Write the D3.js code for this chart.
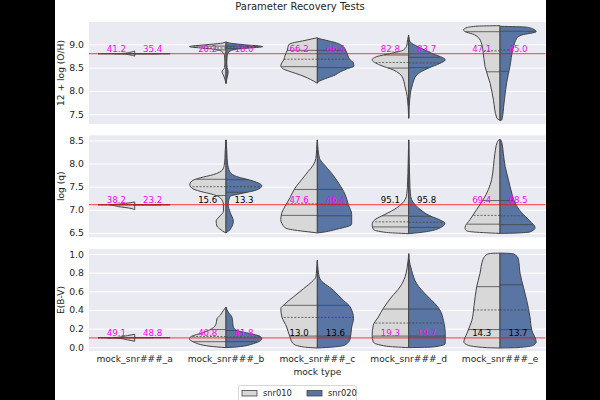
<!DOCTYPE html>
<html lang="en">
<head>
<meta charset="UTF-8">
<title>Parameter Recovery Tests</title>
<script src="https://cdn.jsdelivr.net/npm/d3@7"></script>
<style>
  body { margin: 0; background: #000; }
  svg { display: block; font-family: "DejaVu Sans", sans-serif; }
</style>
</head>
<body>
<div id="chart"></div>
<script>
// categories and groups
const categories = ["mock_snr###_a", "mock_snr###_b", "mock_snr###_c", "mock_snr###_d", "mock_snr###_e"];
const groups = ["snr010", "snr020"];
const yLabels = ["12 + log (O/H)", "log (q)", "E(B-V)"];
const truth = [8.80, 7.11, 0.10];

const ohTicks = [7.5, 8.0, 8.5, 9.0];
const qTicks = [6.5, 7.0, 7.5, 8.0, 8.5];
const ebvTicks = [0.0, 0.2, 0.4, 0.6, 0.8, 1.0];

// violin profiles: [value, relative density]
const ohLeft = [
  [[8.745,0],[8.775,0.15],[8.795,0.36],[8.798,1.0],[8.801,0.36],[8.825,0.15],[8.855,0]],
  [[8.16,0],[8.25,0.03],[8.32,0.06],[8.41,0.11],[8.5,0.04],[8.6,0.03],[8.75,0.04],[8.85,0.12],[8.9,0.4],[8.95,1.0],[8.99,0.55],[9.02,0.15],[9.05,0]],
  [[8.164,0],[8.214,0.11],[8.278,0.27],[8.342,0.47],[8.406,0.71],[8.47,0.93],[8.535,1.0],[8.578,0.99],[8.664,0.92],[8.77,0.88],[8.878,0.82],[8.985,0.79],[9.028,0.68],[9.071,0.41],[9.141,0]],
  [[7.414,0],[7.877,0.04],[8.09,0.1],[8.306,0.18],[8.449,0.42],[8.556,0.79],[8.664,1.0],[8.734,0.88],[8.807,0.47],[8.878,0.14],[8.985,0.05],[9.1,0.03],[9.199,0]],
  [[7.37,0],[7.42,0.09],[7.8,0.18],[8.16,0.27],[8.52,0.41],[8.88,0.47],[9.0,0.5],[9.15,0.6],[9.22,0.75],[9.27,0.95],[9.31,1.0],[9.36,0.9],[9.39,0.6],[9.40,0]]
];
const ohRight = [
  [[8.79,0],[8.795,0.05],[8.798,0.97],[8.801,0.05],[8.806,0]],
  [[8.16,0],[8.25,0.02],[8.32,0.04],[8.41,0.06],[8.5,0.03],[8.6,0.02],[8.75,0.03],[8.85,0.1],[8.9,0.35],[8.95,1.0],[8.99,0.5],[9.02,0.15],[9.05,0]],
  [[8.18,0],[8.21,0.06],[8.278,0.27],[8.342,0.49],[8.406,0.62],[8.47,0.8],[8.535,1.0],[8.6,0.99],[8.664,0.9],[8.79,0.82],[8.88,0.77],[8.95,0.71],[9.03,0.52],[9.09,0.22],[9.13,0]],
  [[7.414,0],[7.914,0.04],[8.128,0.1],[8.342,0.22],[8.486,0.53],[8.593,0.86],[8.664,1.0],[8.807,0.63],[8.95,0.25],[9.05,0.04],[9.163,0]],
  [[7.36,0],[7.38,0.05],[7.74,0.11],[8.17,0.18],[8.52,0.27],[8.91,0.36],[9.13,0.46],[9.2,0.6],[9.27,0.99],[9.33,0.9],[9.37,0.7],[9.385,0]]
];
const qLeft = [
  [[7.0,0],[7.03,0.1],[7.07,0.45],[7.105,0.68],[7.11,1.0],[7.115,0.6],[7.14,0.25],[7.17,0]],
  [[6.5,0],[6.52,0.05],[6.57,0.14],[6.65,0.25],[6.76,0.27],[6.87,0.16],[6.97,0.07],[7.11,0.07],[7.26,0.16],[7.33,0.35],[7.40,0.71],[7.47,0.94],[7.54,0.99],[7.62,0.94],[7.69,0.71],[7.76,0.35],[7.86,0.1],[7.96,0.05],[8.1,0.03],[8.3,0.02],[8.51,0]],
  [[6.5,0],[6.52,0.2],[6.545,0.47],[6.61,0.88],[6.79,1.0],[6.94,0.97],[7.08,0.88],[7.26,0.75],[7.47,0.61],[7.65,0.43],[7.83,0.25],[7.97,0.11],[8.11,0.04],[8.3,0.02],[8.51,0]],
  [[6.485,0],[6.51,0.6],[6.58,0.97],[6.685,1.0],[6.79,0.92],[6.9,0.65],[7.04,0.33],[7.22,0.1],[7.35,0.05],[7.6,0.03],[8.0,0.015],[8.51,0]],
  [[6.49,0],[6.507,0.46],[6.544,0.91],[6.614,0.96],[6.79,0.82],[7.006,0.64],[7.22,0.46],[7.435,0.32],[7.65,0.23],[7.94,0.18],[8.22,0.14],[8.45,0.08],[8.5,0.05],[8.52,0]]
];
const qRight = [
  [[7.10,0],[7.106,0.05],[7.11,0.97],[7.114,0.05],[7.12,0]],
  [[6.5,0],[6.52,0.03],[6.57,0.11],[6.76,0.2],[6.95,0.11],[7.11,0.06],[7.29,0.11],[7.36,0.47],[7.43,0.84],[7.52,0.98],[7.62,0.75],[7.72,0.29],[7.8,0.12],[7.96,0.05],[8.1,0.03],[8.3,0.02],[8.51,0]],
  [[6.5,0],[6.51,0.1],[6.58,0.53],[6.69,0.94],[6.9,0.94],[7.11,0.85],[7.33,0.76],[7.58,0.58],[7.79,0.39],[8.0,0.16],[8.11,0.06],[8.3,0.02],[8.51,0]],
  [[6.485,0],[6.51,0.31],[6.58,0.77],[6.71,0.99],[6.78,0.86],[6.87,0.58],[7.01,0.31],[7.22,0.08],[7.35,0.045],[7.6,0.03],[8.0,0.015],[8.51,0]],
  [[6.49,0],[6.495,0.36],[6.522,0.82],[6.614,0.96],[6.758,0.82],[6.936,0.59],[7.15,0.41],[7.364,0.32],[7.65,0.23],[7.94,0.14],[8.22,0.09],[8.45,0.05],[8.5,0.03],[8.52,0]]
];
const ebvLeft = [
  [[0.065,0],[0.08,0.2],[0.098,0.5],[0.102,1.0],[0.106,0.5],[0.125,0.2],[0.14,0]],
  [[-0.004,0],[0.011,0.44],[0.057,0.89],[0.092,1.0],[0.118,0.94],[0.153,0.66],[0.199,0.39],[0.253,0.27],[0.306,0.25],[0.343,0.16],[0.396,0.07],[0.432,0]],
  [[-0.008,0],[0.003,0.38],[0.039,0.66],[0.11,0.75],[0.218,0.84],[0.325,0.97],[0.414,1.0],[0.467,0.88],[0.539,0.66],[0.628,0.38],[0.718,0.11],[0.753,0.04],[0.83,0.02],[0.932,0]],
  [[-0.004,0],[0.011,0.6],[0.057,0.97],[0.129,1.0],[0.236,0.97],[0.325,0.83],[0.414,0.7],[0.539,0.47],[0.646,0.24],[0.753,0.1],[0.86,0.04],[0.95,0.01],[1.003,0]],
  [[-0.008,0],[-0.004,0.36],[0.021,0.87],[0.057,0.99],[0.146,0.91],[0.289,0.77],[0.45,0.71],[0.646,0.64],[0.789,0.55],[0.949,0.46],[1.0,0.34],[1.008,0.2],[1.01,0]]
];
const ebvRight = [
  [[0.099,0],[0.101,0.05],[0.103,0.97],[0.105,0.05],[0.107,0]],
  [[-0.004,0],[0.003,0.29],[0.039,0.75],[0.092,0.98],[0.118,0.93],[0.146,0.66],[0.182,0.29],[0.218,0.2],[0.28,0.18],[0.325,0.16],[0.378,0.06],[0.43,0]],
  [[-0.008,0],[0.003,0.44],[0.025,0.76],[0.092,0.9],[0.218,0.94],[0.306,0.99],[0.432,0.9],[0.504,0.71],[0.611,0.44],[0.735,0.07],[0.83,0.02],[0.932,0]],
  [[-0.004,0],[0.003,0.67],[0.039,1.0],[0.146,1.0],[0.289,0.95],[0.396,0.86],[0.467,0.72],[0.557,0.49],[0.681,0.22],[0.825,0.08],[0.95,0.01],[1.003,0]],
  [[-0.008,0],[-0.004,0.46],[0.021,0.91],[0.057,0.99],[0.182,0.87],[0.325,0.82],[0.504,0.73],[0.646,0.64],[0.789,0.55],[0.949,0.5],[1.0,0.38],[1.008,0.2],[1.01,0]]
];

// quartiles [q1, median, q3] per category
const ohQuartLeft  = [[8.796,8.798,8.80],[8.88,8.92,8.96],[8.52,8.68,8.87],[8.49,8.61,8.77],[8.41,8.86,9.27]];
const ohQuartRight = [[8.797,8.798,8.799],[8.91,8.94,8.96],[8.50,8.68,8.87],[8.50,8.60,8.72],[8.42,8.88,9.28]];
const qQuartLeft   = [[7.105,7.11,7.114],[7.31,7.50,7.66],[6.88,7.13,7.44],[6.63,6.74,6.87],[6.69,6.88,7.20]];
const qQuartRight  = [[7.109,7.11,7.111],[7.38,7.50,7.65],[6.87,7.12,7.44],[6.62,6.73,6.86],[6.68,6.87,7.20]];
const ebvQuartLeft = [[0.1,0.102,0.104],[0.06,0.115,0.19],[0.12,0.32,0.45],[0.12,0.26,0.41],[0.19,0.40,0.65]];
const ebvQuartRight= [[0.102,0.103,0.104],[0.06,0.11,0.18],[0.12,0.32,0.45],[0.12,0.26,0.41],[0.19,0.40,0.67]];

// recovery percentages and whether they are flagged (magenta)
const ohPctLeft = [41.2, 20.2, 66.2, 82.8, 47.1];
const ohPctRight = [35.4, 18.0, 66.4, 83.7, 45.0];
const ohFlag = [1, 1, 1, 1, 1];
const qPctLeft = [38.2, 15.6, 47.6, 95.1, 69.4];
const qPctRight = [23.2, 13.3, 46.4, 95.8, 68.5];
const qFlag = [1, 0, 1, 0, 1];
const ebvPctLeft = [49.1, 40.8, 13.0, 19.3, 14.3];
const ebvPctRight = [48.8, 41.8, 13.6, 19.7, 13.7];
const ebvFlag = [1, 1, 0, 1, 0];

const panels = [
  {label: yLabels[0], ticks: ohTicks, domain: [7.29, 9.478], left: ohLeft, right: ohRight,
   qL: ohQuartLeft, qR: ohQuartRight, pL: ohPctLeft, pR: ohPctRight, flag: ohFlag, truth: truth[0]},
  {label: yLabels[1], ticks: qTicks, domain: [6.406, 8.61], left: qLeft, right: qRight,
   qL: qQuartLeft, qR: qQuartRight, pL: qPctLeft, pR: qPctRight, flag: qFlag, truth: truth[1]},
  {label: yLabels[2], ticks: ebvTicks, domain: [-0.04, 1.054], left: ebvLeft, right: ebvRight,
   qL: ebvQuartLeft, qR: ebvQuartRight, pL: ebvPctLeft, pR: ebvPctRight, flag: ebvFlag, truth: truth[2]}
];

const W = 600, H = 400;
const figX0 = 55, figX1 = 546;
const axX0 = 89, axX1 = 545.7;
const panelTop = [22, 135.3, 249];
const panelH = 102;

const colors = ["#d8d8d8", "#5875a4"];
const lineColor = "#444";
const textColor = "#262626";

const svg = d3.select("#chart").append("svg")
  .attr("width", W).attr("height", H);

svg.append("rect").attr("x", figX0).attr("y", 0)
  .attr("width", figX1 - figX0).attr("height", H).attr("fill", "#fff");

svg.append("text").attr("x", 300).attr("y", 9.5)
  .attr("text-anchor", "middle").attr("font-size", 10).attr("fill", textColor)
  .text("Parameter Recovery Tests");

const x = d3.scaleBand().domain(categories).range([axX0, axX1]);
const w = d3.scaleLinear().domain([0, 1]).range([0, x.bandwidth() * 0.4]);

// linear read of a profile's width at a value, for the quartile lines
function densityAt(profile, v) {
  const i = d3.bisector(d => d[0]).left(profile, v);
  if (i <= 0) return profile[0][1];
  if (i >= profile.length) return profile[profile.length - 1][1];
  const a = profile[i - 1], b = profile[i];
  const t = (v - a[0]) / (b[0] - a[0]);
  return a[1] + t * (b[1] - a[1]);
}

panels.forEach((p, pi) => {
  const top = panelTop[pi];
  const y = d3.scaleLinear().domain(p.domain).range([top + panelH, top]);
  const g = svg.append("g");

  g.append("rect").attr("x", axX0).attr("y", top)
    .attr("width", axX1 - axX0).attr("height", panelH).attr("fill", "#eaeaf2");

  // gridlines
  g.append("g").attr("transform", `translate(${axX0},0)`)
    .call(d3.axisLeft(y).tickValues(p.ticks).tickSize(-(axX1 - axX0)).tickFormat(""))
    .call(s => s.select(".domain").remove())
    .call(s => s.selectAll("line").attr("stroke", "#fff").attr("stroke-width", 1));

  // tick labels
  g.append("g").attr("transform", `translate(${axX0},0)`)
    .call(d3.axisLeft(y).tickValues(p.ticks).tickSize(0).tickPadding(5).tickFormat(d3.format(".1f")))
    .call(s => s.select(".domain").remove())
    .call(s => s.selectAll("text").attr("font-size", 9.3).attr("fill", textColor)
      .attr("font-family", "DejaVu Sans"));

  g.append("text")
    .attr("transform", `translate(61,${top + panelH / 2}) rotate(-90)`)
    .attr("text-anchor", "middle").attr("dominant-baseline", "central")
    .attr("font-size", 9.1).attr("fill", textColor).text(p.label);

  const clip = "clip" + pi;
  svg.append("clipPath").attr("id", clip).append("rect")
    .attr("x", axX0).attr("y", top).attr("width", axX1 - axX0).attr("height", panelH);
  const body = g.append("g").attr("clip-path", `url(#${clip})`);

  categories.forEach((c, ci) => {
    const cx = x(c) + x.bandwidth() / 2;
    [p.left[ci], p.right[ci]].forEach((prof, si) => {
      const dir = si === 0 ? -1 : 1;
      const area = d3.area().curve(d3.curveMonotoneY)
        .y(d => y(d[0]))
        .x0(cx)
        .x1(d => cx + dir * w(d[1]));
      body.append("path").datum(prof)
        .attr("d", area)
        .attr("fill", colors[si])
        .attr("stroke", lineColor).attr("stroke-width", 1)
        .attr("stroke-linejoin", "round");

      const qs = si === 0 ? p.qL[ci] : p.qR[ci];
      qs.forEach((q, qi) => {
        body.append("line")
          .attr("x1", cx).attr("x2", cx + dir * w(densityAt(prof, q)))
          .attr("y1", y(q)).attr("y2", y(q))
          .attr("stroke", lineColor).attr("stroke-width", 0.9)
          .attr("stroke-dasharray", qi === 1 ? "2,1.5" : null)
          .attr("opacity", 0.85);
      });
    });
  });

  // true value line
  body.append("line")
    .attr("x1", axX0).attr("x2", axX1)
    .attr("y1", y(p.truth)).attr("y2", y(p.truth))
    .attr("stroke", "red").attr("stroke-opacity", 0.6).attr("stroke-width", 1.3);

  // percentages
  categories.forEach((c, ci) => {
    const cx = x(c) + x.bandwidth() / 2;
    const col = p.flag[ci] ? "#ff00ff" : "#000";
    [[p.pL[ci], -18.3], [p.pR[ci], 18]].forEach(([val, off]) => {
      g.append("text")
        .attr("x", cx + off).attr("y", y(p.truth) - 1.5)
        .attr("text-anchor", "middle").attr("font-size", 8.6)
        .attr("fill", col).text(d3.format(".1f")(val));
    });
  });

  if (pi === panels.length - 1) {
    g.append("g").attr("transform", `translate(0,${top + panelH})`)
      .call(d3.axisBottom(x).tickSize(0).tickPadding(5))
      .call(s => s.select(".domain").remove())
      .call(s => s.selectAll("text").attr("font-size", 9.1).attr("fill", textColor)
        .attr("font-family", "DejaVu Sans"));
    g.append("text").attr("x", (axX0 + axX1) / 2).attr("y", 375)
      .attr("text-anchor", "middle").attr("font-size", 9.1).attr("fill", textColor)
      .text("mock type");
  }
});

// legend
const lg = svg.append("g");
lg.append("rect").attr("x", 238.5).attr("y", 385.5).attr("width", 118).attr("height", 22)
  .attr("rx", 2).attr("fill", "#fff").attr("stroke", "#ccc").attr("stroke-width", 0.8);
groups.forEach((gname, i) => {
  const lx = 242 + i * 65;
  lg.append("rect").attr("x", lx).attr("y", 390.5).attr("width", 15).attr("height", 5.5)
    .attr("fill", colors[i]).attr("stroke", lineColor).attr("stroke-width", 0.8);
  lg.append("text").attr("x", lx + 21).attr("y", 396.3)
    .attr("font-size", 8.3).attr("fill", textColor).text(gname);
});
</script>
</body>
</html>
